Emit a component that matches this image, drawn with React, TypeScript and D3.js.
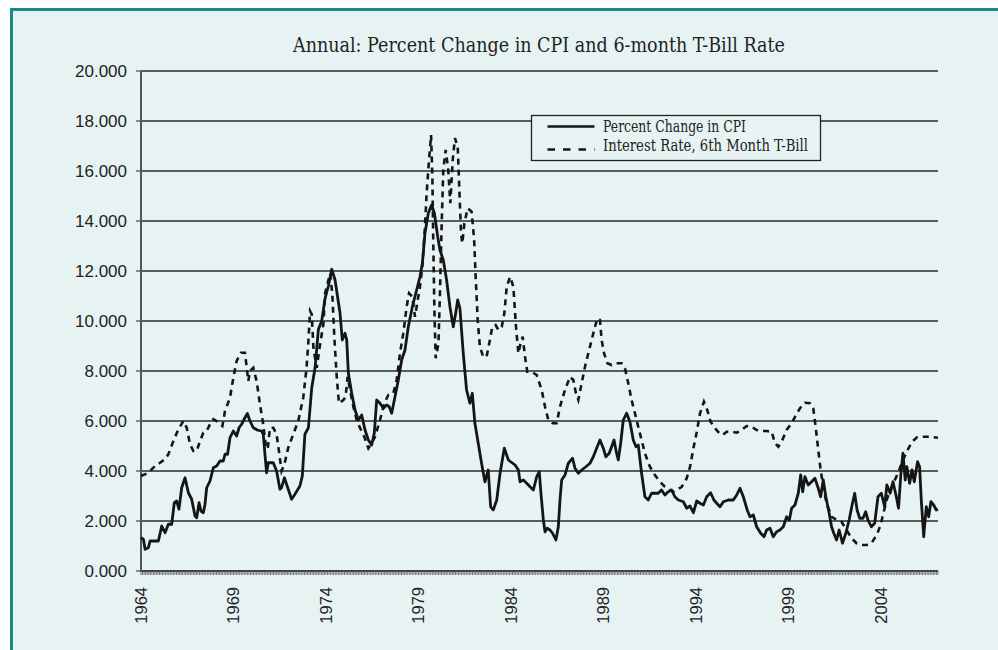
import React from "react";
import * as d3 from "d3";

// chart data ([decimal year, percent])
const title = "Annual: Percent Change in CPI and 6-month T-Bill Rate";
const seriesNames = ["Percent Change in CPI", "Interest Rate, 6th Month T-Bill"];
const startYear = 1964;
const monthCount = 517;
const yearLabels = [1964, 1969, 1974, 1979, 1984, 1989, 1994, 1999, 2004];
const yTicks = [0, 2, 4, 6, 8, 10, 12, 14, 16, 18, 20];

const cpi: [number, number][] = [
  [1964.0, 1.33], [1964.13, 1.27], [1964.22, 0.87], [1964.4, 0.93], [1964.49, 1.2], [1964.94, 1.2],
  [1965.12, 1.8], [1965.3, 1.53], [1965.48, 1.87], [1965.66, 1.87], [1965.8, 2.73], [1965.93, 2.8],
  [1966.05, 2.47], [1966.2, 3.33], [1966.38, 3.73], [1966.56, 3.13], [1966.74, 2.87], [1966.92, 2.2],
  [1967.01, 2.13], [1967.14, 2.73], [1967.24, 2.4], [1967.37, 2.33], [1967.46, 2.67], [1967.55, 3.33],
  [1967.73, 3.6], [1967.91, 4.13], [1968.09, 4.2], [1968.27, 4.4], [1968.45, 4.4], [1968.54, 4.67],
  [1968.68, 4.67], [1968.81, 5.33], [1968.99, 5.6], [1969.17, 5.4], [1969.3, 5.73], [1969.44, 5.87],
  [1969.62, 6.13], [1969.75, 6.3], [1969.89, 6.0], [1970.07, 5.73], [1970.31, 5.63], [1970.52, 5.6],
  [1970.61, 5.47], [1970.7, 4.67], [1970.79, 3.93], [1970.88, 4.33], [1971.15, 4.33], [1971.33, 4.0],
  [1971.51, 3.27], [1971.6, 3.33], [1971.75, 3.73], [1971.96, 3.27], [1972.14, 2.87], [1972.32, 3.07],
  [1972.59, 3.4], [1972.72, 3.8], [1972.86, 5.47], [1973.05, 5.73], [1973.23, 7.33], [1973.41, 8.13],
  [1973.59, 9.67], [1973.77, 10.0], [1973.95, 10.9], [1974.13, 11.4], [1974.31, 12.07], [1974.49, 11.64],
  [1974.76, 10.31], [1974.88, 9.24], [1975.03, 9.51], [1975.12, 9.24], [1975.21, 7.91], [1975.39, 7.11],
  [1975.57, 6.44], [1975.75, 6.04], [1975.93, 6.24], [1976.11, 5.64], [1976.29, 5.24], [1976.47, 5.04],
  [1976.61, 5.51], [1976.74, 6.84], [1976.92, 6.71], [1977.1, 6.51], [1977.28, 6.64], [1977.42, 6.57],
  [1977.55, 6.31], [1977.73, 6.97], [1977.91, 7.64], [1978.09, 8.44], [1978.27, 8.84], [1978.45, 9.77],
  [1978.67, 10.57], [1978.9, 11.24], [1979.08, 11.77], [1979.21, 12.31], [1979.35, 13.51], [1979.53, 14.31],
  [1979.71, 14.64], [1979.86, 14.31], [1980.04, 13.37], [1980.16, 12.84], [1980.34, 12.44], [1980.52, 11.64],
  [1980.7, 10.57], [1980.88, 9.77], [1981.01, 10.31], [1981.12, 10.84], [1981.24, 10.51], [1981.42, 8.71],
  [1981.6, 7.24], [1981.78, 6.71], [1981.91, 7.11], [1982.05, 5.91], [1982.23, 5.11], [1982.41, 4.31],
  [1982.59, 3.57], [1982.77, 4.04], [1982.9, 2.57], [1983.04, 2.44], [1983.23, 2.84], [1983.41, 3.91],
  [1983.64, 4.91], [1983.86, 4.44], [1984.22, 4.24], [1984.4, 4.04], [1984.49, 3.57], [1984.67, 3.64],
  [1984.85, 3.51], [1985.03, 3.37], [1985.21, 3.24], [1985.39, 3.77], [1985.53, 3.97], [1985.62, 3.11],
  [1985.75, 2.04], [1985.84, 1.57], [1985.96, 1.71], [1986.11, 1.64], [1986.25, 1.51], [1986.43, 1.24],
  [1986.56, 1.77], [1986.65, 2.84], [1986.74, 3.64], [1986.92, 3.84], [1987.1, 4.31], [1987.33, 4.51],
  [1987.46, 4.11], [1987.64, 3.91], [1987.82, 4.04], [1988.05, 4.17], [1988.27, 4.31], [1988.45, 4.57],
  [1988.63, 4.91], [1988.81, 5.24], [1988.99, 4.91], [1989.13, 4.57], [1989.31, 4.71], [1989.44, 4.97],
  [1989.57, 5.24], [1989.71, 4.71], [1989.8, 4.44], [1989.93, 5.11], [1990.07, 6.04], [1990.25, 6.31],
  [1990.43, 5.97], [1990.61, 5.24], [1990.76, 4.97], [1990.88, 5.04], [1991.06, 3.91], [1991.24, 2.97],
  [1991.42, 2.84], [1991.6, 3.11], [1991.78, 3.11], [1991.96, 3.11], [1992.14, 3.24], [1992.32, 3.04],
  [1992.5, 3.17], [1992.68, 3.24], [1992.86, 2.97], [1993.05, 2.84], [1993.32, 2.77], [1993.5, 2.51],
  [1993.68, 2.6], [1993.86, 2.33], [1994.04, 2.8], [1994.22, 2.71], [1994.4, 2.64], [1994.58, 2.97],
  [1994.79, 3.13], [1994.97, 2.84], [1995.12, 2.71], [1995.3, 2.57], [1995.48, 2.77], [1995.75, 2.84],
  [1996.02, 2.84], [1996.2, 3.04], [1996.38, 3.31], [1996.56, 2.97], [1996.77, 2.44], [1996.92, 2.17],
  [1997.1, 2.24], [1997.28, 1.77], [1997.5, 1.51], [1997.68, 1.37], [1997.82, 1.64], [1998.0, 1.71],
  [1998.18, 1.37], [1998.36, 1.57], [1998.54, 1.64], [1998.72, 1.77], [1998.9, 2.17], [1999.05, 2.04],
  [1999.17, 2.51], [1999.35, 2.64], [1999.53, 3.11], [1999.66, 3.84], [1999.77, 3.17], [1999.89, 3.77],
  [2000.07, 3.44], [2000.25, 3.57], [2000.43, 3.71], [2000.61, 3.31], [2000.74, 2.97], [2000.88, 3.64],
  [2001.02, 2.97], [2001.2, 2.31], [2001.33, 1.77], [2001.45, 1.51], [2001.6, 1.24], [2001.74, 1.64],
  [2001.92, 1.11], [2002.1, 1.51], [2002.28, 2.04], [2002.46, 2.71], [2002.58, 3.11], [2002.71, 2.44],
  [2002.85, 2.11], [2003.03, 2.11], [2003.17, 2.37], [2003.3, 2.04], [2003.48, 1.77], [2003.66, 1.91],
  [2003.84, 2.97], [2004.02, 3.11], [2004.2, 2.57], [2004.32, 3.44], [2004.5, 3.11], [2004.65, 3.57],
  [2004.83, 2.97], [2004.95, 2.51], [2005.08, 3.91], [2005.19, 4.71], [2005.31, 3.64], [2005.4, 4.17],
  [2005.55, 3.51], [2005.68, 4.04], [2005.8, 3.57], [2005.98, 4.37], [2006.09, 4.17], [2006.18, 2.84],
  [2006.31, 1.37], [2006.45, 2.57], [2006.58, 2.17], [2006.7, 2.77], [2006.85, 2.64], [2006.99, 2.44],
  [2007.08, 2.47],
];

const tbill: [number, number][] = [
  [1964.0, 3.8], [1964.4, 3.93], [1964.76, 4.2], [1965.03, 4.33], [1965.3, 4.47], [1965.48, 4.67],
  [1965.75, 5.2], [1966.02, 5.67], [1966.29, 6.0], [1966.47, 5.73], [1966.65, 5.07], [1966.83, 4.8],
  [1967.01, 4.8], [1967.19, 5.2], [1967.37, 5.53], [1967.55, 5.6], [1967.73, 5.87], [1967.91, 6.07],
  [1968.09, 6.0], [1968.27, 5.87], [1968.4, 5.8], [1968.54, 6.4], [1968.81, 6.93], [1968.99, 7.73],
  [1969.17, 8.4], [1969.41, 8.73], [1969.62, 8.73], [1969.8, 7.6], [1969.89, 8.0], [1970.07, 8.13],
  [1970.25, 7.6], [1970.43, 6.67], [1970.58, 6.0], [1970.74, 5.07], [1970.85, 4.87], [1970.97, 5.73],
  [1971.15, 5.73], [1971.33, 5.47], [1971.48, 4.67], [1971.6, 4.0], [1971.75, 4.27], [1971.96, 4.93],
  [1972.23, 5.47], [1972.5, 6.0], [1972.77, 6.93], [1972.95, 8.13], [1973.05, 9.2], [1973.14, 10.4],
  [1973.23, 10.27], [1973.32, 8.93], [1973.5, 8.13], [1973.68, 9.07], [1973.86, 9.87], [1973.95, 11.1],
  [1974.22, 11.9], [1974.34, 11.1], [1974.45, 9.37], [1974.58, 7.77], [1974.7, 6.71], [1974.94, 6.84],
  [1975.06, 6.97], [1975.17, 7.77], [1975.3, 7.24], [1975.48, 6.57], [1975.66, 6.04], [1975.89, 5.64],
  [1976.07, 5.37], [1976.29, 4.91], [1976.47, 5.11], [1976.65, 5.37], [1976.92, 6.04], [1977.15, 6.71],
  [1977.37, 7.04], [1977.64, 7.11], [1977.82, 7.64], [1978.0, 8.71], [1978.18, 9.51], [1978.36, 10.57],
  [1978.49, 11.11], [1978.67, 10.97], [1978.81, 10.17], [1978.96, 10.84], [1979.08, 11.37], [1979.21, 12.17],
  [1979.35, 13.77], [1979.44, 15.11], [1979.57, 16.44], [1979.68, 17.44], [1979.75, 15.77], [1979.8, 13.11],
  [1979.86, 10.44], [1979.93, 8.51], [1980.08, 9.11], [1980.16, 11.11], [1980.25, 13.77], [1980.34, 16.04],
  [1980.47, 16.84], [1980.61, 16.04], [1980.72, 14.71], [1980.85, 16.44], [1980.97, 17.31], [1981.12, 16.97],
  [1981.21, 15.24], [1981.3, 13.51], [1981.37, 13.11], [1981.48, 13.91], [1981.66, 14.51], [1981.87, 14.37],
  [1982.01, 13.24], [1982.09, 11.77], [1982.2, 10.04], [1982.32, 8.97], [1982.5, 8.57], [1982.68, 8.57],
  [1982.86, 9.24], [1982.99, 9.77], [1983.17, 9.84], [1983.32, 9.64], [1983.5, 9.77], [1983.64, 10.31],
  [1983.77, 11.37], [1983.95, 11.77], [1984.13, 11.37], [1984.27, 9.77], [1984.4, 8.71], [1984.52, 9.11],
  [1984.63, 9.37], [1984.76, 8.57], [1984.88, 7.97], [1985.12, 7.97], [1985.39, 7.84], [1985.66, 7.24],
  [1985.84, 6.57], [1986.02, 6.04], [1986.25, 5.91], [1986.47, 5.91], [1986.65, 6.57], [1986.92, 7.24],
  [1987.19, 7.77], [1987.37, 7.64], [1987.51, 7.11], [1987.64, 6.84], [1987.82, 7.51], [1988.0, 8.17],
  [1988.18, 8.71], [1988.36, 9.24], [1988.54, 9.77], [1988.67, 10.11], [1988.81, 10.04], [1988.9, 9.24],
  [1989.03, 8.71], [1989.21, 8.31], [1989.44, 8.24], [1989.71, 8.31], [1989.98, 8.31], [1990.16, 8.11],
  [1990.34, 7.51], [1990.52, 6.84], [1990.7, 6.31], [1990.88, 5.77], [1991.06, 5.24], [1991.24, 4.71],
  [1991.51, 4.17], [1991.78, 3.84], [1992.05, 3.57], [1992.32, 3.37], [1992.59, 3.24], [1992.77, 3.17],
  [1992.95, 3.24], [1993.23, 3.37], [1993.5, 3.71], [1993.68, 4.17], [1993.86, 4.9], [1994.04, 5.55],
  [1994.22, 6.31], [1994.43, 6.77], [1994.61, 6.44], [1994.79, 5.97], [1995.03, 5.71], [1995.26, 5.51],
  [1995.44, 5.44], [1995.66, 5.57], [1995.93, 5.57], [1996.2, 5.53], [1996.47, 5.64], [1996.74, 5.8],
  [1997.01, 5.77], [1997.28, 5.64], [1997.55, 5.6], [1997.82, 5.6], [1998.09, 5.57], [1998.27, 5.11],
  [1998.45, 4.97], [1998.63, 5.17], [1998.9, 5.64], [1999.17, 5.91], [1999.41, 6.24], [1999.62, 6.51],
  [1999.89, 6.73], [2000.16, 6.71], [2000.34, 6.51], [2000.49, 5.64], [2000.61, 4.84], [2000.74, 4.04],
  [2000.88, 3.37], [2001.06, 2.71], [2001.33, 2.17], [2001.6, 2.04], [2001.87, 1.97], [2002.14, 1.64],
  [2002.41, 1.31], [2002.68, 1.11], [2002.95, 1.04], [2003.23, 1.04], [2003.5, 1.13], [2003.77, 1.44],
  [2003.98, 1.84], [2004.13, 2.31], [2004.31, 2.84], [2004.5, 3.24], [2004.71, 3.57], [2004.95, 3.97],
  [2005.19, 4.44], [2005.44, 4.84], [2005.68, 5.17], [2005.95, 5.35], [2006.31, 5.37], [2006.67, 5.37],
  [2007.08, 5.33],
];

const W = 998;
const H = 650;
const left = 141;
const right = 938;
const top = 71;
const bottom = 571;

const bg = "#e7f3f3";
const frame = "#1a8a86";
const ink = "#151515";

export default function App() {
  const x = d3
    .scaleLinear()
    .domain([startYear, startYear + monthCount / 12])
    .range([left, right]);
  const y = d3.scaleLinear().domain([0, 20]).range([bottom, top]);

  const line = d3
    .line<[number, number]>()
    .x((d) => x(d[0]))
    .y((d) => y(d[1]));

  const months = d3.range(monthCount + 1);
  const fmt = d3.format(".3f");

  return (
    <svg
      width={W}
      height={H}
      style={{ position: "absolute", left: 0, top: 0 }}
    >
      <rect x={0} y={0} width={W} height={H} fill="#ffffff" />
      <rect
        x={11.5}
        y={9.5}
        width={W + 10}
        height={H + 10}
        fill={bg}
        stroke={frame}
        strokeWidth={3}
      />

      <text
        x={539}
        y={52}
        textAnchor="middle"
        fontFamily="DejaVu Serif"
        fontSize={20}
        fill="#222"
        textLength={492}
        lengthAdjust="spacingAndGlyphs"
      >
        {title}
      </text>

      {/* gridlines and y labels */}
      {yTicks.map((t) => (
        <g key={t}>
          {t > 0 && (
            <line
              x1={left}
              x2={right}
              y1={y(t)}
              y2={y(t)}
              stroke="#2a2a2a"
              strokeWidth={1.3}
            />
          )}
          <line x1={left - 5} x2={left} y1={y(t)} y2={y(t)} stroke="#555" strokeWidth={1.3} />
          <text
            x={127}
            y={y(t)}
            dy="0.35em"
            textAnchor="end"
            fontFamily="Liberation Sans"
            fontSize={17}
            fill="#222"
          >
            {fmt(t)}
          </text>
        </g>
      ))}

      {/* month ticks on the category axis */}
      {months.map((m) => (
        <line
          key={m}
          x1={x(startYear + m / 12)}
          x2={x(startYear + m / 12)}
          y1={bottom}
          y2={bottom + 4}
          stroke="#666"
          strokeWidth={0.9}
        />
      ))}
      <line x1={left} x2={right} y1={bottom} y2={bottom} stroke="#444" strokeWidth={2} />
      <line x1={left} x2={left} y1={top} y2={bottom + 1} stroke="#555" strokeWidth={2} />

      {yearLabels.map((yr) => (
        <text
          key={yr}
          transform={`translate(${x(yr)},587) rotate(-90)`}
          dy="0.35em"
          textAnchor="end"
          fontFamily="Liberation Sans"
          fontSize={16.5}
          fill="#222"
        >
          {yr}
        </text>
      ))}

      <path
        d={line(tbill) ?? ""}
        fill="none"
        stroke={ink}
        strokeWidth={2.6}
        strokeDasharray="6,5"
      />
      <path
        d={line(cpi) ?? ""}
        fill="none"
        stroke={ink}
        strokeWidth={2.8}
        strokeLinejoin="round"
      />

      {/* legend */}
      <rect x={531.5} y={115.5} width={289} height={45} fill={bg} stroke="#222" strokeWidth={1.3} />
      <line x1={547.5} x2={594.5} y1={126.5} y2={126.5} stroke={ink} strokeWidth={2.6} />
      <line
        x1={547.5}
        x2={594.5}
        y1={149.5}
        y2={149.5}
        stroke={ink}
        strokeWidth={2.6}
        strokeDasharray="7.5,8"
      />
      <text
        x={603}
        y={132}
        fontFamily="DejaVu Serif"
        fontSize={16}
        fill="#222"
        textLength={143}
        lengthAdjust="spacingAndGlyphs"
      >
        {seriesNames[0]}
      </text>
      <text
        x={603}
        y={151}
        fontFamily="DejaVu Serif"
        fontSize={16}
        fill="#222"
        textLength={205}
        lengthAdjust="spacingAndGlyphs"
      >
        {seriesNames[1]}
      </text>
    </svg>
  );
}
